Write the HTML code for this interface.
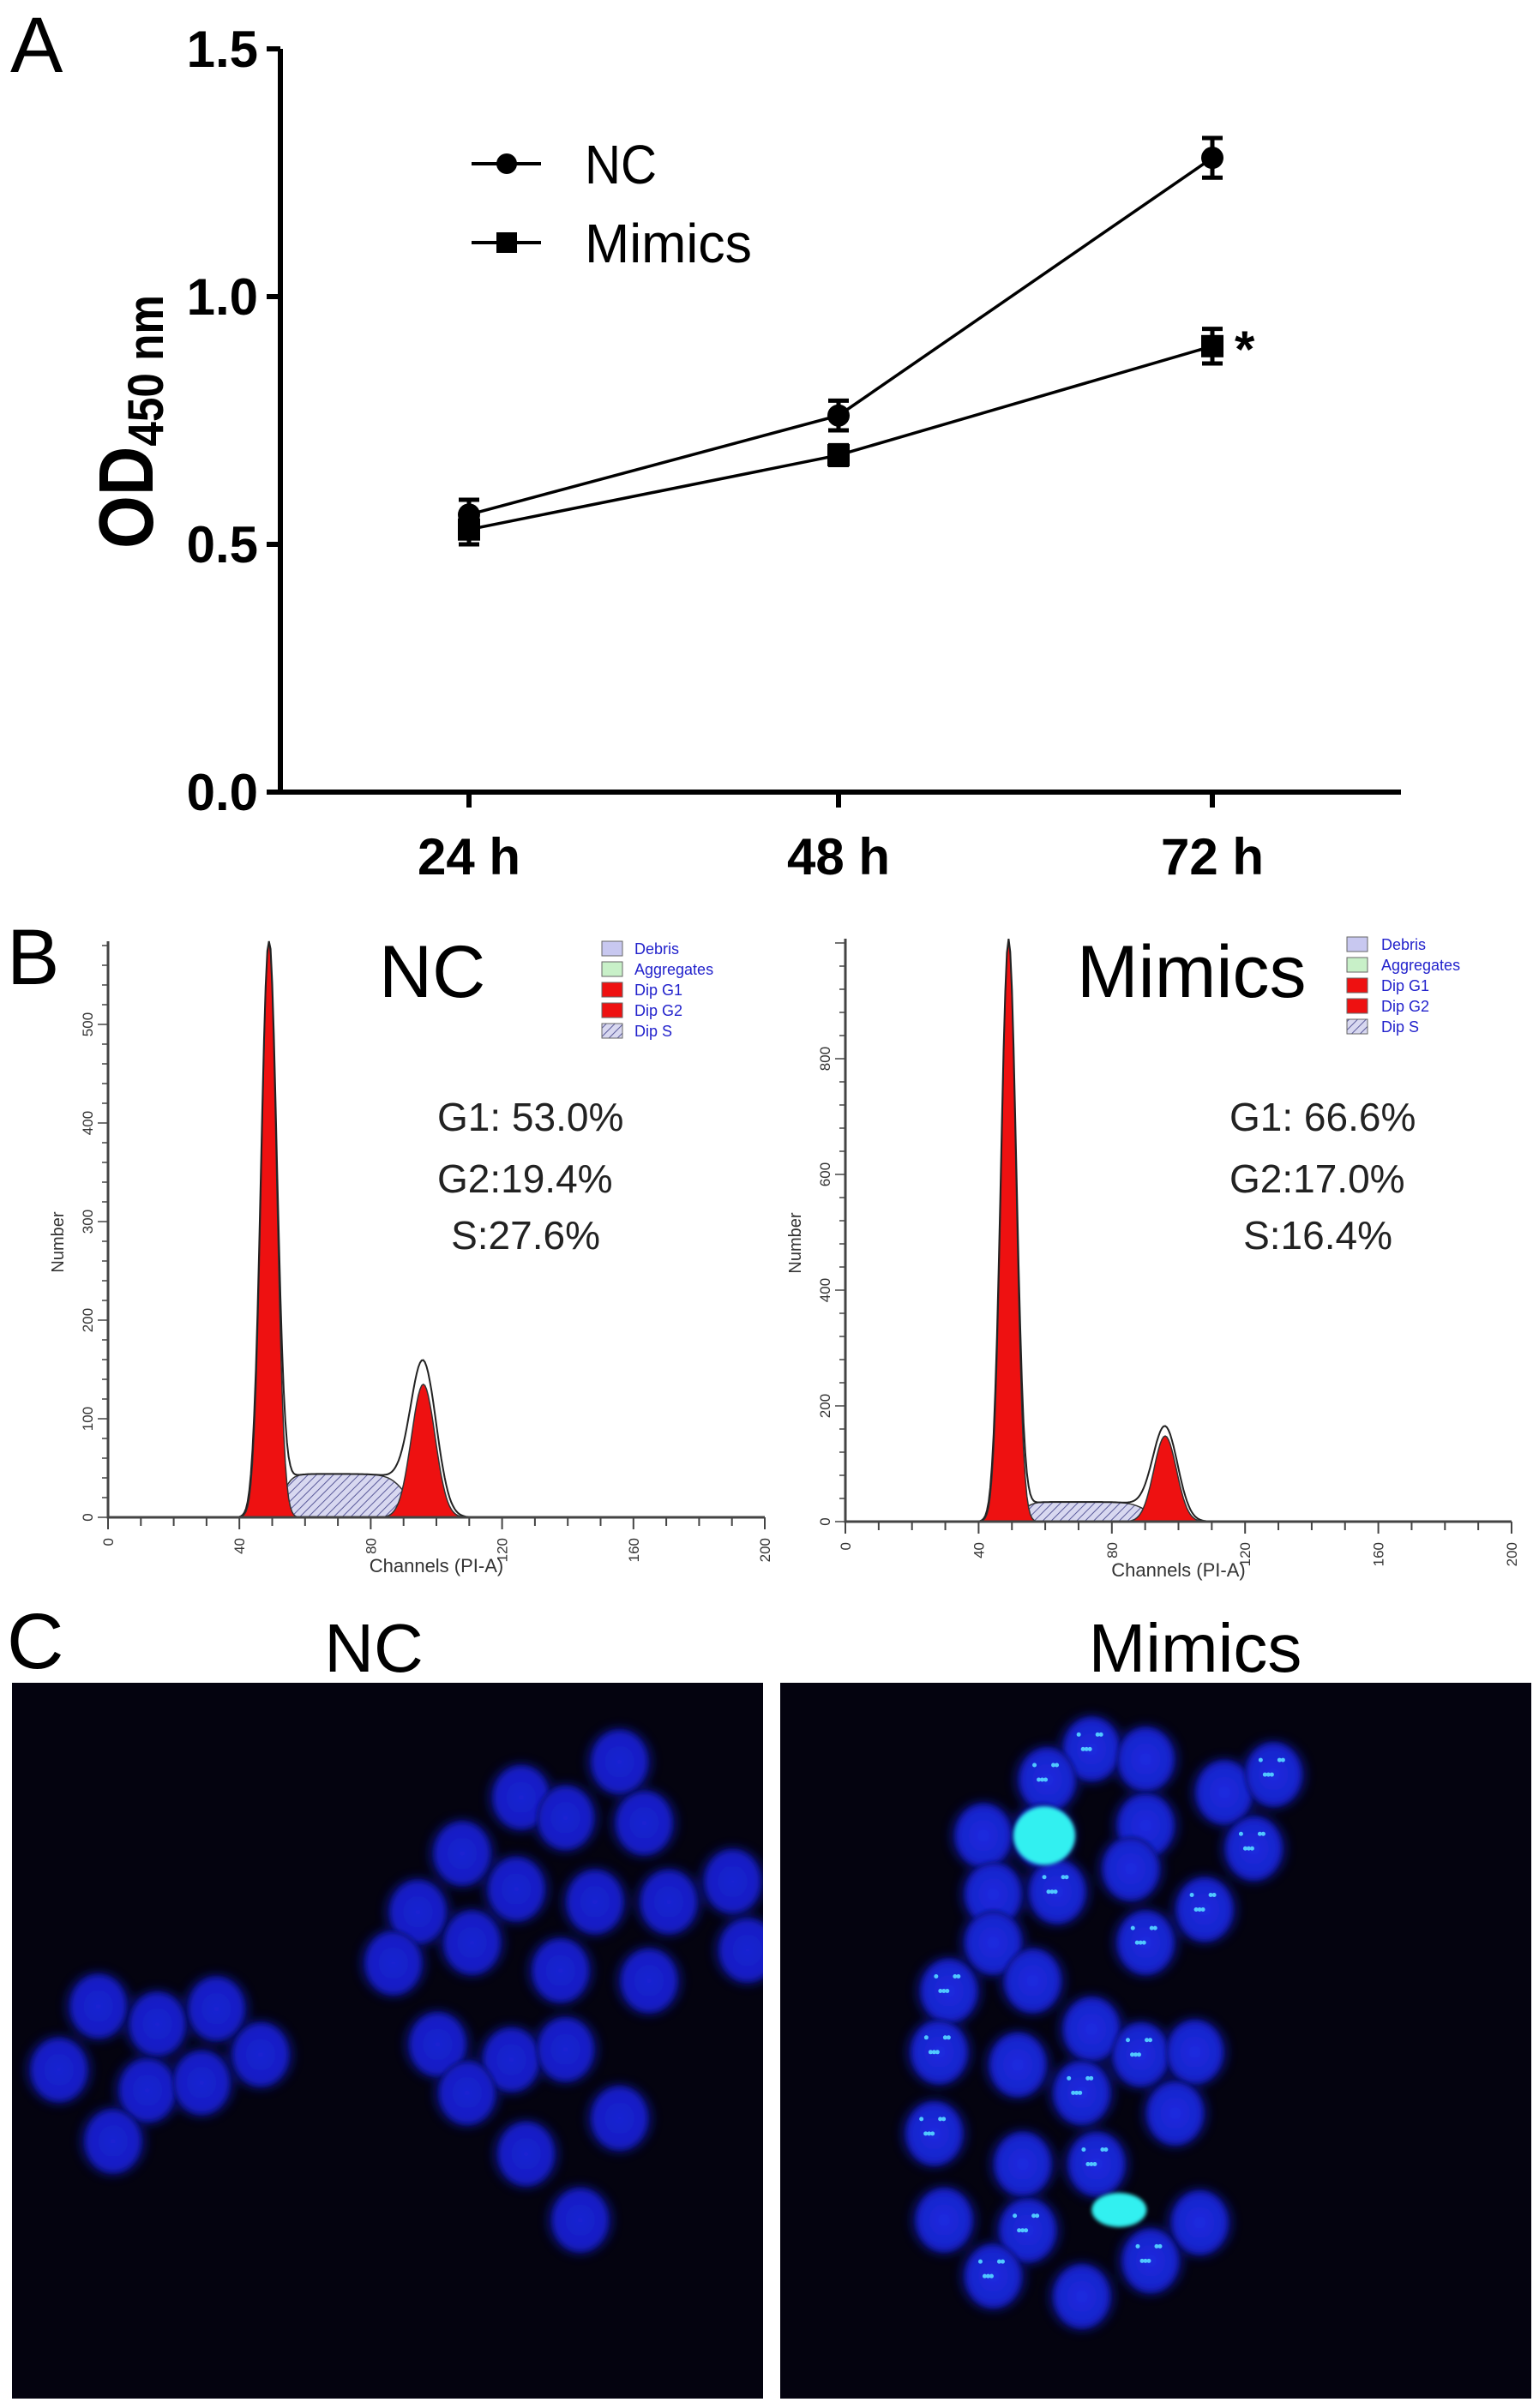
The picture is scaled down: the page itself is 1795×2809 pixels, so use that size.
<!DOCTYPE html>
<html><head><meta charset="utf-8"><style>
html,body{margin:0;padding:0;background:#fff;}
svg{display:block;font-family:"Liberation Sans",sans-serif;}
</style></head><body>
<svg id="fig" xmlns="http://www.w3.org/2000/svg" width="1795" height="2809" viewBox="0 0 1795 2809">
<defs>
<pattern id="hatch" patternUnits="userSpaceOnUse" width="7" height="7" patternTransform="rotate(45)">
<rect width="7" height="7" fill="#d8d8f0"/><line x1="0" y1="0" x2="0" y2="7" stroke="#5a5a9a" stroke-width="2"/>
</pattern>
<filter id="blur" x="-50%" y="-50%" width="200%" height="200%"><feGaussianBlur stdDeviation="5"/></filter>
<filter id="blur2" x="-50%" y="-50%" width="200%" height="200%"><feGaussianBlur stdDeviation="2"/></filter>
<radialGradient id="cellg"><stop offset="0" stop-color="#1a22d2"/><stop offset="0.8" stop-color="#161ec4"/><stop offset="1" stop-color="#0c1080"/></radialGradient>
<radialGradient id="cellm"><stop offset="0" stop-color="#1c2ae0"/><stop offset="0.8" stop-color="#1824cc"/><stop offset="1" stop-color="#0c1288"/></radialGradient>
</defs>
<g id="panelA"></g>
<g id="panelB"></g>
<g id="panelC"></g>
</svg>
<script>
// ---------- Panel A data ----------
const timeLabels = ["24 h","48 h","72 h"];
const ncValues = [0.56, 0.76, 1.28];
const ncErrors = [0.03, 0.03, 0.04];
const mimicsValues = [0.53, 0.68, 0.90];
const mimicsErrors = [0.03, 0.02, 0.035];
const yTicks = [0.0, 0.5, 1.0, 1.5];
const yTickLabels = ["0.0","0.5","1.0","1.5"];

// ---------- Panel B data (fit parameters) ----------
const histNames = ["NC","Mimics"];
const g1Center = [49, 49];
const g1Width = [2.3, 2.2];
const g1Height = [585, 1005];
const g2Center = [96, 96];
const g2Width = [3.6, 3.4];
const g2Height = [135, 148];
const sLevel = [44, 34];
const outlinePeak = [163, 168];
const g1Pct = ["G1: 53.0%","G1: 66.6%"];
const g2Pct = ["G2:19.4%","G2:17.0%"];
const sPct = ["S:27.6%","S:16.4%"];
const histYTicksNC = [0,100,200,300,400,500];
const histYTicksM = [0,200,400,600,800];
const histXTicks = [0,40,80,120,160,200];

const NS="http://www.w3.org/2000/svg";
function mk(tag, attrs, parent, text){
  const e=document.createElementNS(NS,tag);
  for(const k in attrs) e.setAttribute(k,attrs[k]);
  if(text!==undefined) e.textContent=text;
  parent.appendChild(e); return e;
}
// ---------- Panel A ----------
(function(){
  const g=document.getElementById('panelA');
  const x0=327, x1=1634, yBase=924, pxPer=578;
  const xPos=[547,978,1414];
  const y=v=>yBase-v*pxPer;
  const t=mk('text',{x:12,y:84,'font-size':92},g,'A');
   
  const ax=mk('path',{d:`M${x0},${y(1.5)} V${yBase} H${x1}`,stroke:'#000','stroke-width':6,fill:'none'},g);
   
  yTicks.forEach((v,i)=>{
    mk('line',{x1:x0-16,x2:x0,y1:y(v),y2:y(v),stroke:'#000','stroke-width':6},g);
    const l=mk('text',{x:x0-26,y:y(v)+21,'font-size':60,'font-weight':'bold','text-anchor':'end'},g,yTickLabels[i]);
     
  });
  timeLabels.forEach((s,i)=>{
    mk('line',{x1:xPos[i],x2:xPos[i],y1:yBase,y2:yBase+18,stroke:'#000','stroke-width':6},g);
    const l=mk('text',{x:xPos[i],y:1020,'font-size':60,'font-weight':'bold','text-anchor':'middle'},g,s);
     
  });
  const tt=mk('text',{transform:'translate(178,492) rotate(-90)','font-size':90,'font-weight':'bold','text-anchor':'middle',textLength:296,lengthAdjust:'spacingAndGlyphs'},g);
   
  mk('tspan',{},tt,'OD');
  mk('tspan',{'font-size':58,dy:12},tt,'450 nm');
  function series(vals,errs,marker,name){
    const sg=mk('g',{},g);
     
    mk('polyline',{points:vals.map((v,i)=>xPos[i]+','+y(v)).join(' '),fill:'none',stroke:'#000','stroke-width':3.5},sg);
    vals.forEach((v,i)=>{
      const cx=xPos[i], cy=y(v), e=errs[i]*pxPer;
      mk('path',{d:`M${cx-12},${cy-e} H${cx+12} M${cx},${cy-e} V${cy+e} M${cx-12},${cy+e} H${cx+12}`,stroke:'#000','stroke-width':5,fill:'none'},sg);
      let m;
      if(marker==='circle') m=mk('circle',{cx:cx,cy:cy,r:13,fill:'#000'},sg);
      else m=mk('rect',{x:cx-13,y:cy-13,width:26,height:26,fill:'#000'},sg);
       
    });
  }
  series(ncValues,ncErrors,'circle','nc-series');
  series(mimicsValues,mimicsErrors,'square','mimics-series');
  const st=mk('text',{x:1440,y:428,'font-size':60,'font-weight':'bold'},g,'*');
   
  const lg=mk('g',{},g);  
  mk('line',{x1:550,x2:631,y1:191,y2:191,stroke:'#000','stroke-width':4},lg);
  mk('circle',{cx:591,cy:191,r:12,fill:'#000'},lg);
  const a=mk('text',{x:682,y:214,'font-size':64,textLength:84,lengthAdjust:'spacingAndGlyphs'},lg,'NC');
   
  mk('line',{x1:550,x2:631,y1:283,y2:283,stroke:'#000','stroke-width':4},lg);
  mk('rect',{x:579,y:271,width:24,height:24,fill:'#000'},lg);
  const b=mk('text',{x:682,y:306,'font-size':64,textLength:195,lengthAdjust:'spacingAndGlyphs'},lg,'Mimics');
   
})();

// ---------- Panel B ----------
(function(){
  const g=document.getElementById('panelB');
  const t=mk('text',{x:8,y:1148,'font-size':92},g,'B');
   
  const cfg=[
    {x0:126,xs:3.83,base:1770,ys:1.15,top:1098,ticks:histYTicksNC,title:[442,1163],leg:[702,740,1098],txt:510},
    {x0:986,xs:3.885,base:1775,ys:0.675,top:1095,ticks:histYTicksM,title:[1256,1163],leg:[1571,1611,1093],txt:1434}
  ];
  const gauss=(c,c0,w,h)=>h*Math.exp(-0.5*((c-c0)/w)**2);
  const sFun=(c,i)=>{const a=g1Center[i]+4,b=g2Center[i]-5;
    const l=1/(1+Math.exp(-(c-a)/1.5)), r=1/(1+Math.exp((c-b)/2.5)); return sLevel[i]*l*r;};
  cfg.forEach((C,i)=>{
    const hg=mk('g',{},g);
     
    const X=c=>C.x0+c*C.xs, Y=v=>Math.max(C.top,C.base-v*C.ys);
    const pts=f=>{let s=[];for(let c=30;c<=120;c+=0.5) s.push(X(c).toFixed(1)+','+Y(f(c)).toFixed(1));return s;};
    const area=(f,name,fill,stroke)=>{const p=mk('path',{d:'M'+X(30)+','+C.base+' L'+pts(f).join(' L')+' L'+X(120)+','+C.base+' Z',fill:fill,stroke:stroke,'stroke-width':1.5},hg);
       };
    area(c=>sFun(c,i),'dip-s-area','url(#hatch)','#333');
    area(c=>gauss(c,g1Center[i],g1Width[i],g1Height[i]),'dip-g1-peak','#ee1111','#333');
    area(c=>gauss(c,g2Center[i],g2Width[i],g2Height[i]),'dip-g2-peak','#ee1111','#333');
    const ratio=(outlinePeak[i]-sLevel[i]*0.2)/g2Height[i];
    const o=mk('polyline',{points:pts(c=>gauss(c,g1Center[i],g1Width[i]*1.05,g1Height[i])+sFun(c,i)+gauss(c,g2Center[i],g2Width[i]*1.1,g2Height[i]*ratio)).join(' '),fill:'none',stroke:'#222','stroke-width':2},hg);
     
    mk('path',{d:`M${C.x0},${C.top} V${C.base} H${X(200)}`,stroke:'#444','stroke-width':3,fill:'none'},hg);
    for(let c=0;c<=200;c+=10) mk('line',{x1:X(c),x2:X(c),y1:C.base,y2:C.base+(c%40===0?14:10),stroke:'#444','stroke-width':2},hg);
    histXTicks.forEach(c=>{const l=mk('text',{transform:`translate(${X(c)+6},${C.base+24}) rotate(-90)`,'font-size':17,fill:'#333','text-anchor':'end'},hg,String(c));
       });
    const step=C.ticks[1]/5;
    for(let v=0;C.base-v*C.ys>=C.top;v+=step) mk('line',{x1:C.x0-(v%C.ticks[1]===0?12:7),x2:C.x0,y1:C.base-v*C.ys,y2:C.base-v*C.ys,stroke:'#444','stroke-width':1.5},hg);
    C.ticks.forEach(v=>{const l=mk('text',{transform:`translate(${C.x0-18},${C.base-v*C.ys}) rotate(-90)`,'font-size':17,fill:'#333','text-anchor':'middle'},hg,String(v));
       });
    const yl=mk('text',{transform:`translate(${C.x0-52},${(C.base+C.top)/2+15}) rotate(-90)`,'font-size':20,fill:'#333','text-anchor':'middle'},hg,'Number');
     
    const xl=mk('text',{x:X(100),y:C.base+64,'font-size':22,fill:'#333','text-anchor':'middle'},hg,'Channels (PI-A)');
     
    const ti=mk('text',{x:C.title[0],y:C.title[1],'font-size':86},hg,histNames[i]);
     
    [g1Pct[i],g2Pct[i],sPct[i]].forEach((s,k)=>{
      const tx=mk('text',{x:C.txt+(k===2?190:0),y:[1319,1391,1457][k],'font-size':46,'text-anchor':k===2?'end':'start',fill:'#222'},hg,s);
       
    });
    const lg=mk('g',{},hg);  
    const names=['Debris','Aggregates','Dip G1','Dip G2','Dip S'];
    const fills=['#c8c8f0','#c8f0c8','#ee1111','#ee1111','url(#hatch)'];
    names.forEach((n,k)=>{
      const yy=C.leg[2]+k*24;
      mk('rect',{x:C.leg[0],y:yy,width:24,height:17,fill:fills[k],stroke:'#666','stroke-width':1},lg);
      const l=mk('text',{x:C.leg[1],y:yy+15,'font-size':18,fill:'#2222cc'},lg,n);
       
    });
  });
})();

// ---------- Panel C ----------
const ncCells = [[100,775],[160,810],[220,780],[265,870],[60,900],[150,940],[205,925],[115,1040],[530,365],[630,295],[575,405],[655,415],[470,475],[525,545],[605,570],[680,570],[745,530],[425,590],[480,650],[400,690],[570,705],[660,725],[760,665],[445,850],[520,880],[575,860],[475,945],[630,995],[535,1065],[590,1195]];
const mimicsCells = [[1110,270],[1165,290],[1065,330],[1245,355],[1295,320],[1000,440],[1060,440],[1165,420],[1275,465],[1010,555],[1075,550],[1150,505],[1225,585],[1010,650],[1165,650],[1050,725],[965,745],[1110,820],[955,865],[1035,890],[1160,870],[1215,865],[1100,945],[1195,985],[950,1025],[1040,1085],[1115,1085],[960,1195],[1045,1215],[1220,1200],[1010,1305],[1100,1345],[1170,1275]];
const brightCells = [[1062,440,36,34],[1138,1175,32,20]];
(function(){
  const g=document.getElementById('panelC');
  const t=mk('text',{x:8,y:1946,'font-size':92},g,'C');
   
  const a=mk('text',{x:436,y:1950,'font-size':80,'text-anchor':'middle'},g,'NC');
   
  const b=mk('text',{x:1394,y:1950,'font-size':80,'text-anchor':'middle'},g,'Mimics');
   
  const X=zx=>zx*1.147, Y=zy=>1880+zy*0.594;
  function img(x,w,cells,grad,name){
    const ig=mk('g',{},g);  
    const cp=mk('clipPath',{id:'cp'+name},ig); mk('rect',{x:x,y:1963,width:w,height:835},cp);
    mk('rect',{x:x,y:1963,width:w,height:835,fill:'#04030f'},ig);
    const cg=mk('g',{'clip-path':`url(#cp${name})`},ig);
    const halo=mk('g',{filter:'url(#blur)',opacity:0.55},cg);
    cells.forEach(c=>mk('ellipse',{cx:X(c[0]),cy:Y(c[1]),rx:40,ry:42,fill:'#10189a'},halo));
    cells.forEach(c=>{const e=mk('ellipse',{cx:X(c[0]),cy:Y(c[1]),rx:34,ry:38,fill:`url(#${grad})`,filter:'url(#blur2)'},cg);
       });
    return cg;
  }
  img(14,876,ncCells,'cellg','nc-image');
  const cg=img(910,876,mimicsCells,'cellm','mimics-image');
  mimicsCells.forEach((c,k)=>{ if(k%2===0){
    for(let d=0;d<6;d++) mk('circle',{cx:X(c[0])+((d*13)%30)-15,cy:Y(c[1])+((d*17)%34)-17,r:2.5,fill:'#50c8ff'},cg);
  }});
  brightCells.forEach(c=>{const e=mk('ellipse',{cx:X(c[0]),cy:Y(c[1]),rx:c[2],ry:c[3],fill:'#30f0f0',filter:'url(#blur2)'},cg);
     });
})();
</script>
</body></html>
